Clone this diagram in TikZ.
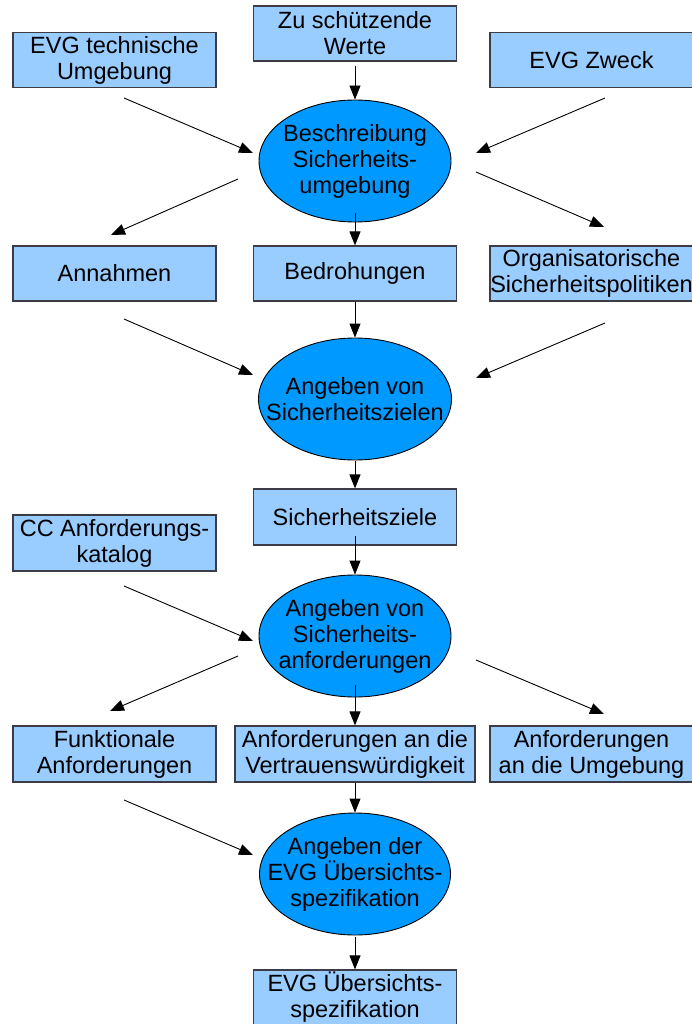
\documentclass[tikz,border=0pt]{standalone}
\usepackage{fontspec}
\setmainfont{Liberation Sans}
\usetikzlibrary{arrows.meta,shapes.geometric}
\definecolor{boxfill}{RGB}{153,204,255}
\definecolor{ellfill}{RGB}{0,153,255}
\definecolor{boxline}{RGB}{60,60,70}
\begin{document}
\begin{tikzpicture}[x=1pt,y=-1pt,
  every node/.style={font=\fontsize{23.5}{26}\selectfont, align=center, text=black},
  box/.style={draw=boxline, line width=1.2pt, fill=boxfill, minimum width=203pt, minimum height=55pt, inner sep=0pt},
  ell/.style={draw=black, line width=0.9pt, fill=ellfill, ellipse, minimum width=192pt, minimum height=122pt, inner sep=0pt},
  arr/.style={-{Triangle[length=14pt,width=11pt]}, line width=0.9pt, black}]
\useasboundingbox (0,0) rectangle (691,1024);

% row 1
\node[box] (tech) at (114.5,60) {EVG technische\\Umgebung};
\node[box] (werte) at (355,33.5) {Zu schützende\\Werte};
\node[box] (zweck) at (591.5,60) {EVG Zweck};
\node[ell, label={[align=center]center:Beschreibung\\Sicherheits-\\umgebung}] (e1) at (355,161) {};

% row 2
\node[box] (annahmen) at (114.5,273.5) {Annahmen};
\node[box] (bedroh) at (355,273.5) {Bedrohungen};
\node[box] (org) at (591.5,273.5) {Organisatorische\\Sicherheitspolitiken};
\node[ell, minimum width=193pt, label={[align=center]center:Angeben von\\Sicherheitszielen}] (e2) at (355,399) {};

% row 3
\node[box, minimum height=56pt] (ziele) at (355,517) {Sicherheitsziele};
\node[box, minimum height=56pt] (cc) at (114.5,543) {CC Anforderungs-\\katalog};
\node[ell, label={[align=center]center:Angeben von\\Sicherheits-\\anforderungen}] (e3) at (355,636) {};

% row 4
\node[box, minimum height=56pt] (funkt) at (114.5,754) {Funktionale\\Anforderungen};
\node[box, minimum height=56pt, minimum width=240pt] (vertr) at (355,754) {Anforderungen an die\\Vertrauenswürdigkeit};
\node[box, minimum height=56pt] (umg) at (591.5,754) {Anforderungen\\an die Umgebung};
\node[ell, minimum width=191pt, label={[align=center]center:Angeben der\\EVG Übersichts-\\spezifikation}] (e4) at (355,874) {};

% final
\node[box] (final) at (355,997.5) {EVG Übersichts-\\spezifikation};

% vertical arrows
\draw[arr] ([yshift=-4pt]werte.south) -- (e1.north);
\draw[arr] ([yshift=9pt]e1.south) -- (bedroh.north);
\draw[arr] (bedroh.south) -- (e2.north);
\draw[arr] ([yshift=-1pt]e2.south) -- (ziele.north);
\draw[arr] ([yshift=10pt]ziele.south) -- (e3.north);
\draw[arr] ([yshift=12pt]e3.south) -- (vertr.north);
\draw[arr] (vertr.south) -- (e4.north);
\draw[arr] ([yshift=-2pt]e4.south) -- (final.north);

% diagonal arrows (free ends)
\coordinate (a1s) at (124,98);  \coordinate (a1e) at (253,153);
\coordinate (a2s) at (605,98);  \coordinate (a2e) at (476,153);
\coordinate (a3s) at (238,179); \coordinate (a3e) at (111,235);
\coordinate (a4s) at (476,172); \coordinate (a4e) at (604,227);
\coordinate (a5s) at (124,319); \coordinate (a5e) at (253,375);
\coordinate (a6s) at (605,323); \coordinate (a6e) at (476,378);
\coordinate (a7s) at (124,586); \coordinate (a7e) at (253,641);
\coordinate (a8s) at (238,656); \coordinate (a8e) at (110,711);
\coordinate (a9s) at (476,660); \coordinate (a9e) at (604,714);
\coordinate (a10s) at (124,800); \coordinate (a10e) at (253,855);
\foreach \i in {1,...,10} {\draw[arr] (a\i s) -- (a\i e);}
\end{tikzpicture}
\end{document}
